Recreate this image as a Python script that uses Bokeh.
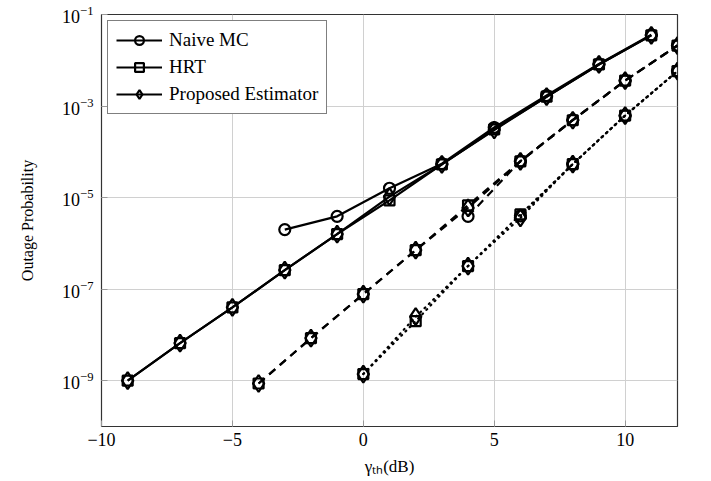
from bokeh.plotting import figure
from bokeh.models import Legend, LegendItem, FixedTicker, LogTickFormatter
from bokeh.embed import file_html
from bokeh.resources import INLINE

# ---- data ----
x_solid = [-9, -7, -5, -3, -1, 1, 3, 5, 7, 9, 11]
hrt_solid = [1.0e-9, 6.6e-9, 4.0e-8, 2.6e-7, 1.6e-6, 8.7e-6, 5.3e-5, 3.1e-4, 1.6e-3, 8.1e-3, 3.5e-2]
prop_solid = [1.0e-9, 6.6e-9, 4.0e-8, 2.6e-7, 1.6e-6, 1.05e-5, 5.3e-5, 3.0e-4, 1.6e-3, 8.1e-3, 3.5e-2]
x_naive_solid = [-3, -1, 1, 3, 5, 7, 9, 11]
naive_solid = [2.0e-6, 3.9e-6, 1.6e-5, 5.5e-5, 3.4e-4, 1.7e-3, 8.3e-3, 3.6e-2]

x_dash = [-4, -2, 0, 2, 4, 6, 8, 10, 12]
hrt_dash = [8.7e-10, 8.5e-9, 7.8e-8, 7.1e-7, 6.8e-6, 6.2e-5, 4.9e-4, 3.6e-3, 2.1e-2]
prop_dash = [8.7e-10, 8.5e-9, 7.8e-8, 7.1e-7, 6.0e-6, 6.2e-5, 4.9e-4, 3.6e-3, 2.1e-2]
x_naive_dash = [4, 6, 8, 10, 12]
naive_dash = [3.9e-6, 6.3e-5, 5.0e-4, 3.6e-3, 2.1e-2]

x_dot = [0, 2, 4, 6, 8, 10, 12]
hrt_dot = [1.4e-9, 2.0e-8, 3.2e-7, 4.3e-6, 5.4e-5, 6.2e-4, 5.8e-3]
prop_dot = [1.4e-9, 2.5e-8, 3.2e-7, 3.6e-6, 5.4e-5, 6.2e-4, 5.8e-3]
x_naive_dot = [6, 8, 10, 12]
naive_dot = [4.0e-6, 5.4e-5, 6.2e-4, 5.8e-3]

series_labels = ["Naive MC", "HRT", "Proposed Estimator"]
x_ticks = [-10, -5, 0, 5, 10]
y_ticks = [1e-9, 1e-7, 1e-5, 1e-3, 1e-1]

FONT = "Liberation Serif"

p = figure(frame_width=576, frame_height=412, x_range=(-10, 12), y_range=(1e-10, 1e-1),
           y_axis_type="log", output_backend="svg", toolbar_location=None,
           min_border_left=101, min_border_top=14, min_border_right=20, min_border_bottom=45)

p.background_fill_color = "white"
p.outline_line_color = "#333333"
p.outline_line_width = 1.2

p.xaxis.ticker = FixedTicker(ticks=x_ticks)
p.xaxis.major_label_overrides = {t: (("\u2212" + str(-t)) if t < 0 else str(t)) for t in x_ticks}
p.yaxis.ticker = FixedTicker(ticks=y_ticks)
p.yaxis.formatter = LogTickFormatter()
p.xgrid.ticker = FixedTicker(ticks=x_ticks)
p.ygrid.ticker = FixedTicker(ticks=y_ticks)
p.xgrid.grid_line_color = "#d0d0d0"
p.ygrid.grid_line_color = "#d0d0d0"
p.grid.grid_line_width = 1

for ax in (p.xaxis, p.yaxis):
    ax.axis_line_color = None
    ax.major_tick_in = 6
    ax.major_tick_out = 0
    ax.minor_tick_line_color = None
    ax.major_tick_line_color = "#999999"
    ax.major_label_text_font = FONT
    ax.major_label_text_font_size = "18px"
    ax.major_label_text_color = "black"
    ax.axis_label_text_font = FONT
    ax.axis_label_text_font_style = "normal"
    ax.axis_label_text_color = "black"

p.xaxis.axis_label = "\u03b3\u209c\u2095(dB)"
p.xaxis.axis_label_text_font_size = "17px"
p.xaxis.major_label_standoff = 6
p.xaxis.axis_label_standoff = 8
p.yaxis.axis_label = "Outage Probability"
p.yaxis.axis_label_text_font_size = "16px"
p.yaxis.major_label_standoff = 8
p.yaxis.axis_label_standoff = 23

LW = 2.2
groups = [
    (x_naive_solid, naive_solid, x_solid, hrt_solid, prop_solid, "solid"),
    (x_naive_dash, naive_dash, x_dash, hrt_dash, prop_dash, "8 6"),
    (x_naive_dot, naive_dot, x_dot, hrt_dot, prop_dot, "1 5"),
]

legend_refs = None
for i, (xn, yn, xg, yh, yp, dash) in enumerate(groups):
    cap = "round" if dash == "1 5" else "butt"
    ln = p.line(xn, yn, line_color="black", line_width=LW, line_dash=dash, line_cap=cap)
    sn = p.scatter(xn, yn, marker="circle", size=11, line_color="black", line_width=LW, fill_color=None)
    lh = p.line(xg, yh, line_color="black", line_width=LW, line_dash=dash, line_cap=cap)
    sh = p.scatter(xg, yh, marker="square", size=10, line_color="black", line_width=LW, fill_color=None)
    lp = p.line(xg, yp, line_color="black", line_width=LW, line_dash=dash, line_cap=cap)
    sp = p.scatter(xg, yp, marker="diamond", size=17, line_color="black", line_width=LW, fill_color=None)
    if i == 0:
        legend_refs = [[ln, sn], [lh, sh], [lp, sp]]

legend = Legend(items=[LegendItem(label=lab, renderers=r) for lab, r in zip(series_labels, legend_refs)],
                location="top_left")
legend.border_line_color = "black"
legend.border_line_width = 1.2
legend.background_fill_color = "white"
legend.background_fill_alpha = 1
legend.label_text_font = FONT
legend.label_text_font_size = "19px"
legend.label_text_color = "black"
legend.glyph_width = 46
legend.glyph_height = 22
legend.label_height = 22
legend.spacing = 5
legend.padding = 8
legend.margin = 6
legend.label_standoff = 7
p.add_layout(legend)

open("out.html", "w").write(file_html(p, INLINE))
